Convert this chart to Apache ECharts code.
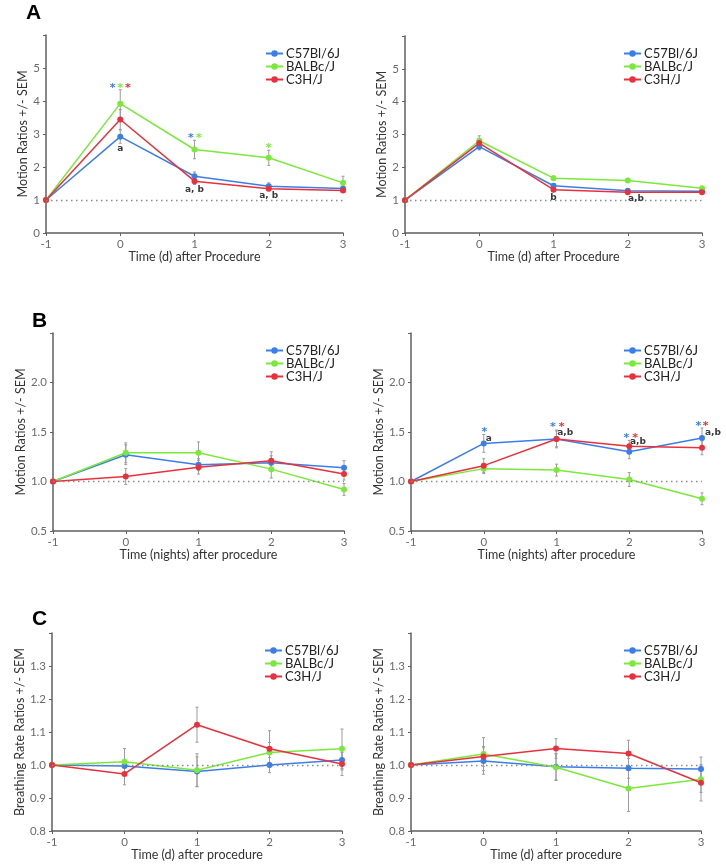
<!DOCTYPE html>
<html><head><meta charset="utf-8">
<script src="https://cdn.jsdelivr.net/npm/echarts@6/dist/echarts.min.js"></script>
<style>html,body{margin:0;padding:0;background:#fff}#c{width:726px;height:864px}</style>
</head><body><div id="c"></div>
<script>
// ---------- data ----------
const days = [-1, 0, 1, 2, 3];
const strains = ['C57Bl/6J', 'BALBc/J', 'C3H/J'];

// Panel A left (motion, days)
const aLeftC57  = [1, 2.92, 1.72, 1.42, 1.35];
const aLeftBalb = [1, 3.92, 2.53, 2.28, 1.52];
const aLeftC3h  = [1, 3.44, 1.57, 1.34, 1.29];
const aLeftSemC57  = [0, 0.20, 0.13, 0.10, 0.07];
const aLeftSemBalb = [0, 0.42, 0.28, 0.23, 0.20];
const aLeftSemC3h  = [0, 0.30, 0.10, 0.06, 0.05];
// notes: [x, y, text, strain index (-1 = letter)]
const aLeftNotes = [[-0.103, 4.48, '*', 0], [0, 4.48, '*', 1], [0.103, 4.48, '*', 2], [0, 2.56, 'a', -1],
                    [0.95, 2.94, '*', 0], [1.06, 2.94, '*', 1], [1, 1.32, 'a, b', -1],
                    [2, 2.66, '*', 1], [2, 1.13, 'a, b', -1]];

// Panel A right
const aRightC57  = [1, 2.63, 1.44, 1.29, 1.27];
const aRightBalb = [1, 2.81, 1.67, 1.60, 1.36];
const aRightC3h  = [1, 2.74, 1.32, 1.24, 1.24];
const aRightSemC57  = [0, 0.10, 0.05, 0.04, 0.04];
const aRightSemBalb = [0, 0.15, 0.06, 0.05, 0.05];
const aRightSemC3h  = [0, 0.12, 0.06, 0.05, 0.05];
const aRightNotes = [[1, 1.08, 'b', -1], [2.11, 1.04, 'a,b', -1]];

// Panel B left (motion, nights)
const bLeftC57  = [1, 1.27, 1.17, 1.19, 1.14];
const bLeftBalb = [1, 1.29, 1.29, 1.125, 0.92];
const bLeftC3h  = [1, 1.05, 1.145, 1.21, 1.075];
const bLeftSemC57  = [0, 0.10, 0.06, 0.07, 0.07];
const bLeftSemBalb = [0, 0.10, 0.11, 0.09, 0.06];
const bLeftSemC3h  = [0, 0.08, 0.07, 0.09, 0.06];
const bLeftNotes = [];

// Panel B right
const bRightC57  = [1, 1.385, 1.43, 1.30, 1.44];
const bRightBalb = [1, 1.13, 1.115, 1.02, 0.825];
const bRightC3h  = [1, 1.16, 1.43, 1.355, 1.34];
const bRightSemC57  = [0, 0.09, 0.08, 0.07, 0.10];
const bRightSemBalb = [0, 0.05, 0.06, 0.07, 0.06];
const bRightSemC3h  = [0, 0.07, 0.09, 0.06, 0.07];
const bRightNotes = [[0.01, 1.52, '*', 0], [0.07, 1.43, 'a', -1],
                     [0.95, 1.57, '*', 0], [1.07, 1.57, '*', 2], [1.12, 1.49, 'a,b', -1],
                     [1.96, 1.466, '*', 0], [2.08, 1.466, '*', 2], [2.12, 1.405, 'a,b', -1],
                     [2.95, 1.585, '*', 0], [3.05, 1.585, '*', 2], [3.15, 1.497, 'a,b', -1]];

// Panel C left (breathing rate)
const cLeftC57  = [1, 0.997, 0.98, 1.0, 1.015];
const cLeftBalb = [1, 1.01, 0.984, 1.038, 1.049];
const cLeftC3h  = [1, 0.973, 1.122, 1.049, 1.003];
const cLeftSemC57  = [0, 0.02, 0.045, 0.023, 0.03];
const cLeftSemBalb = [0, 0.04, 0.05, 0.03, 0.06];
const cLeftSemC3h  = [0, 0.033, 0.053, 0.055, 0.035];
const cLeftNotes = [];

// Panel C right
const cRightC57  = [1, 1.012, 0.995, 0.99, 0.988];
const cRightBalb = [1, 1.033, 0.993, 0.929, 0.957];
const cRightC3h  = [1, 1.026, 1.05, 1.035, 0.946];
const cRightSemC57  = [0, 0.04, 0.04, 0.03, 0.036];
const cRightSemBalb = [0, 0.05, 0.04, 0.07, 0.04];
const cRightSemC3h  = [0, 0.03, 0.03, 0.04, 0.055];
const cRightNotes = [];

// ---------- styling / layout ----------
const colors = ['#3b7ee8', '#7be83c', '#e8313d'];
const FONT = 'Lato, "Open Sans", sans-serif';
const motionName = 'Motion Ratios +/- SEM';
const breathName = 'Breathing Rate Ratios +/- SEM';

const panels = [
  {grid:{left:46, top:35, width:297, height:198}, y:{min:0, max:6, interval:1, dec:0},
   yName:motionName, yGap:17, xName:'Time (d) after Procedure', xGap:17, legend:{left:260, top:42},
   vals:[aLeftC57, aLeftBalb, aLeftC3h], sem:[aLeftSemC57, aLeftSemBalb, aLeftSemC3h], notes:aLeftNotes},
  {grid:{left:405, top:36, width:297, height:197}, y:{min:0, max:6, interval:1, dec:0},
   yName:motionName, yGap:16, xName:'Time (d) after Procedure', xGap:17, legend:{left:618, top:42},
   vals:[aRightC57, aRightBalb, aRightC3h], sem:[aRightSemC57, aRightSemBalb, aRightSemC3h], notes:aRightNotes},
  {grid:{left:53, top:333, width:291, height:198}, y:{min:0.5, max:2.5, interval:0.5, dec:1},
   yName:motionName, yGap:22, xName:'Time (nights) after procedure', xGap:17, legend:{left:260, top:339},
   vals:[bLeftC57, bLeftBalb, bLeftC3h], sem:[bLeftSemC57, bLeftSemBalb, bLeftSemC3h], notes:bLeftNotes},
  {grid:{left:411, top:333, width:291, height:198}, y:{min:0.5, max:2.5, interval:0.5, dec:1},
   yName:motionName, yGap:24, xName:'Time (nights) after procedure', xGap:17, legend:{left:618, top:339},
   vals:[bRightC57, bRightBalb, bRightC3h], sem:[bRightSemC57, bRightSemBalb, bRightSemC3h], notes:bRightNotes},
  {grid:{left:52, top:633, width:290, height:198}, y:{min:0.8, max:1.4, interval:0.1, dec:1},
   yName:breathName, yGap:23, xName:'Time (d) after procedure', xGap:16, legend:{left:259, top:639},
   vals:[cLeftC57, cLeftBalb, cLeftC3h], sem:[cLeftSemC57, cLeftSemBalb, cLeftSemC3h], notes:cLeftNotes},
  {grid:{left:411, top:633, width:290, height:198}, y:{min:0.8, max:1.4, interval:0.1, dec:1},
   yName:breathName, yGap:25, xName:'Time (d) after procedure', xGap:16, legend:{left:618, top:639},
   vals:[cRightC57, cRightBalb, cRightC3h], sem:[cRightSemC57, cRightSemBalb, cRightSemC3h], notes:cRightNotes}
];

const axisColor = '#5f5f5f';
const grids = [], xAxes = [], yAxes = [], legends = [], series = [];

panels.forEach((p, i) => {
  grids.push(Object.assign({containLabel:false}, p.grid));
  xAxes.push({
    type:'value', gridIndex:i, min:-1, max:3, interval:1,
    name:p.xName, nameLocation:'middle', nameGap:p.xGap,
    nameTextStyle:{fontFamily:FONT, fontSize:12.5, color:'#333'},
    axisLine:{onZero:false, lineStyle:{color:axisColor, width:1.5}},
    axisTick:{show:true, length:3, lineStyle:{color:axisColor}},
    axisLabel:{fontFamily:FONT, fontSize:11.5, color:'#6a6a6a', margin:5},
    splitLine:{show:false}
  });
  const ymax = p.y.max;
  yAxes.push({
    type:'value', gridIndex:i, min:p.y.min, max:p.y.max, interval:p.y.interval,
    name:p.yName, nameLocation:'middle', nameGap:p.yGap,
    nameTextStyle:{fontFamily:FONT, fontSize:12.5, color:'#333'},
    axisLine:{show:true, onZero:false, lineStyle:{color:axisColor, width:1.5}},
    axisTick:{show:true, length:3, lineStyle:{color:axisColor}},
    axisLabel:{fontFamily:FONT, fontSize:11.5, color:'#6a6a6a', margin:6,
      formatter:v => Math.abs(v - ymax) < 1e-9 ? '' : v.toFixed(p.y.dec)},
    splitLine:{show:false}
  });
  legends.push({
    left:p.legend.left, top:p.legend.top, orient:'vertical', itemGap:0,
    itemWidth:17, itemHeight:8, data:strains,
    textStyle:{fontFamily:FONT, fontSize:13, color:'#222', lineHeight:12, padding:[0,0,0,-2]}
  });

  // error bars (drawn under the lines)
  p.vals.forEach((vals, s) => {
    const sem = p.sem[s];
    const ebData = [];
    days.forEach((d, k) => { if (sem[k] > 0) ebData.push([d, vals[k] - sem[k], vals[k] + sem[k]]); });
    series.push({
      type:'custom', xAxisIndex:i, yAxisIndex:i, z:1, silent:true,
      data:ebData, encode:{x:0, y:[1,2]},
      renderItem:(params, api) => {
        const x = api.value(0);
        const a = api.coord([x, api.value(2)]);
        const b = api.coord([x, api.value(1)]);
        const st = {stroke:'#9c9c9c', lineWidth:1};
        return {type:'group', children:[
          {type:'line', shape:{x1:a[0], y1:a[1], x2:b[0], y2:b[1]}, style:st},
          {type:'line', shape:{x1:a[0]-1.5, y1:a[1], x2:a[0]+1.5, y2:a[1]}, style:st},
          {type:'line', shape:{x1:b[0]-1.5, y1:b[1], x2:b[0]+1.5, y2:b[1]}, style:st}
        ]};
      }
    });
  });

  p.vals.forEach((vals, s) => {
    const ser = {
      type:'line', name:strains[s], xAxisIndex:i, yAxisIndex:i, z:3,
      data:days.map((d, k) => [d, vals[k]]),
      symbol:'circle', symbolSize:6, showSymbol:true,
      itemStyle:{color:colors[s]}, lineStyle:{color:colors[s], width:1.5},
      emphasis:{disabled:true}
    };
    if (s === 0) {
      ser.markLine = {
        silent:true, symbol:['none','none'], label:{show:false},
        lineStyle:{type:[1.5,3.5], color:'#8a8a8a', width:1.3},
        data:[{yAxis:1}], animation:false
      };
    }
    series.push(ser);
  });

  if (p.notes.length) {
    const notes = p.notes;
    series.push({
      type:'custom', xAxisIndex:i, yAxisIndex:i, z:5, silent:true, clip:false,
      data:notes.map(n => [n[0], n[1]]),
      renderItem:(params, api) => {
        const n = notes[params.dataIndex];
        const c = api.coord([n[0], n[1]]);
        const star = n[3] >= 0;
        return {type:'text', x:c[0], y:c[1] + (star ? 2.5 : 0), style:{
          text:n[2], align:'center', verticalAlign:'middle',
          fill: star ? colors[n[3]] : '#3a3a3a',
          font: star ? 'bold 11px "DejaVu Sans", sans-serif' : 'bold 9px "DejaVu Sans", sans-serif'
        }};
      }
    });
  }
});

const titles = [
  {text:'A', left:26, top:3},
  {text:'B', left:32, top:311},
  {text:'C', left:32, top:609}
].map(t => Object.assign(t, {textStyle:{fontFamily:'"Liberation Sans", Arial, sans-serif', fontSize:21, fontWeight:'bold', color:'#000'}, padding:0}));

const chart = echarts.init(document.getElementById('c'), null, {renderer:'canvas'});
chart.setOption({
  animation:false, backgroundColor:'#fff',
  title:titles, grid:grids, xAxis:xAxes, yAxis:yAxes, legend:legends, series:series
});
</script></body></html>
